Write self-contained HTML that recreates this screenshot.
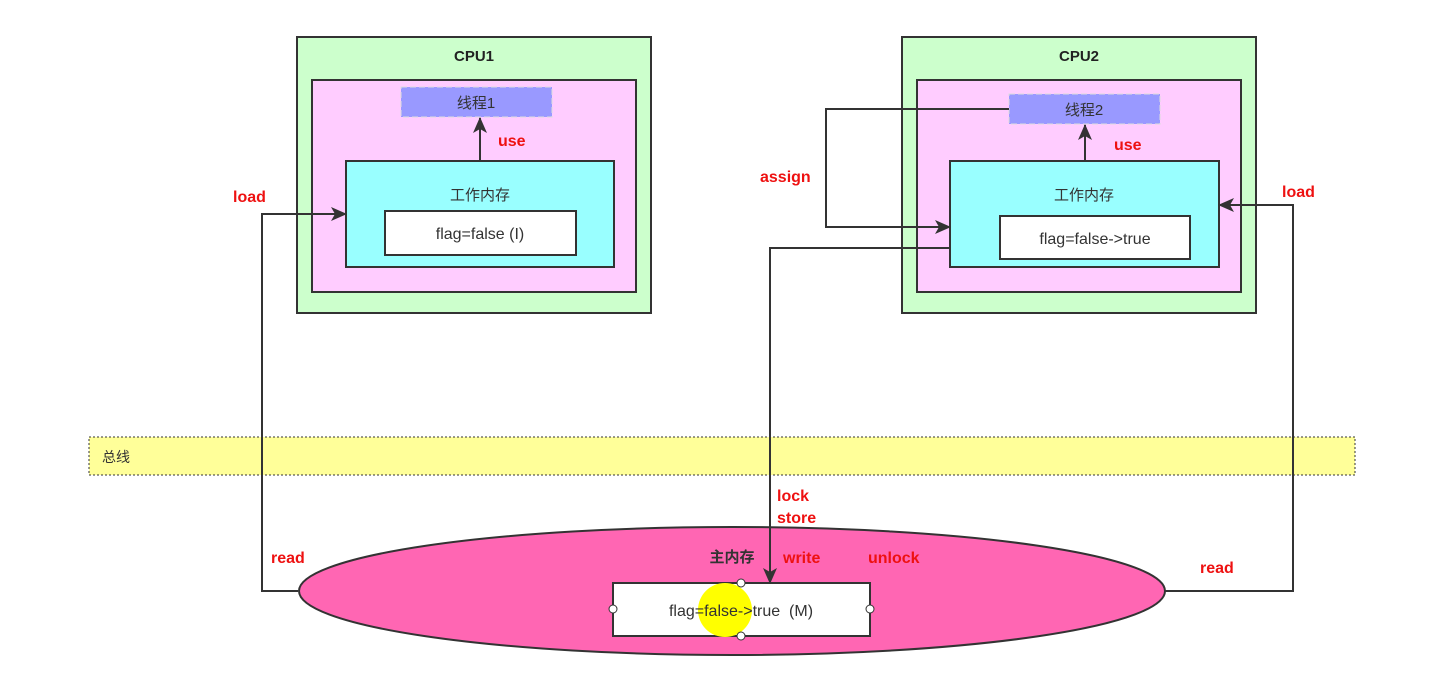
<!DOCTYPE html>
<html><head><meta charset="utf-8"><style>body{margin:0;background:#fff}svg{display:block}</style></head><body>
<svg width="1438" height="679" xmlns="http://www.w3.org/2000/svg" font-family="Liberation Sans, Noto Sans CJK SC, sans-serif">
<defs>
<marker id="b" markerWidth="16" markerHeight="14" refX="15" refY="7" orient="auto" markerUnits="userSpaceOnUse"><path d="M0,0 L16,7 L0,14 L4,7 Z" fill="#333"/></marker></defs>
<!-- CPU1 -->
<rect x="297" y="37" width="354" height="276" fill="#ccffcc" stroke="#333" stroke-width="2"/>
<text x="474" y="61" text-anchor="middle" font-weight="bold" font-size="15" fill="#222">CPU1</text>
<rect x="312" y="80" width="324" height="212" fill="#ffccff" stroke="#333" stroke-width="2"/>
<rect x="401" y="87" width="151" height="30" fill="#9999ff" stroke="#ddd" stroke-dasharray="6,3"/>
<text x="476" y="108" text-anchor="middle" font-size="15" fill="#333">线程1</text>
<rect x="346" y="161" width="268" height="106" fill="#99ffff" stroke="#333" stroke-width="2"/>
<text x="480" y="200" text-anchor="middle" font-size="15" fill="#333">工作内存</text>
<rect x="385" y="211" width="191" height="44" fill="#fff" stroke="#333" stroke-width="2"/>
<text x="480" y="239" text-anchor="middle" font-size="16" fill="#333">flag=false (I)</text>
<!-- CPU2 -->
<rect x="902" y="37" width="354" height="276" fill="#ccffcc" stroke="#333" stroke-width="2"/>
<text x="1079" y="61" text-anchor="middle" font-weight="bold" font-size="15" fill="#222">CPU2</text>
<rect x="917" y="80" width="324" height="212" fill="#ffccff" stroke="#333" stroke-width="2"/>
<rect x="1009" y="94" width="151" height="30" fill="#9999ff" stroke="#ddd" stroke-dasharray="6,3"/>
<text x="1084" y="115" text-anchor="middle" font-size="15" fill="#333">线程2</text>
<rect x="950" y="161" width="269" height="106" fill="#99ffff" stroke="#333" stroke-width="2"/>
<text x="1084" y="200" text-anchor="middle" font-size="15" fill="#333">工作内存</text>
<rect x="1000" y="216" width="190" height="43" fill="#fff" stroke="#333" stroke-width="2"/>
<text x="1095" y="244" text-anchor="middle" font-size="16" fill="#333">flag=false-&gt;true</text>
<!-- bus -->
<rect x="89" y="437" width="1266" height="38" fill="#ffff99" stroke="#333" stroke-dasharray="2,2"/>
<text x="102" y="462" font-size="14" fill="#333">总线</text>
<!-- main memory -->
<ellipse cx="732" cy="591" rx="433" ry="64" fill="#ff66b3" stroke="#333" stroke-width="2"/>
<rect x="613" y="583" width="257" height="53" fill="#fff" stroke="#333" stroke-width="2"/>
<circle cx="725" cy="610" r="27" fill="#ffff00"/>
<text x="741" y="616" text-anchor="middle" font-size="16" fill="#333" xml:space="preserve">flag=false-&gt;true  (M)</text>
<circle cx="613" cy="609" r="4" fill="#fff" stroke="#333"/><circle cx="870" cy="609" r="4" fill="#fff" stroke="#333"/>
<circle cx="741" cy="583" r="4" fill="#fff" stroke="#333"/><circle cx="741" cy="636" r="4" fill="#fff" stroke="#333"/>
<text x="732" y="562" text-anchor="middle" font-size="15" font-weight="bold" fill="#333">主内存</text>
<!-- connectors -->
<g fill="none" stroke="#333" stroke-width="2">
<polyline points="298,591 262,591 262,214 346,214" marker-end="url(#b)"/>
<line x1="480" y1="161" x2="480" y2="118" marker-end="url(#b)"/>
<line x1="1085" y1="161" x2="1085" y2="125" marker-end="url(#b)"/>
<polyline points="1009,109 826,109 826,227 950,227" marker-end="url(#b)"/>
<polyline points="950,248 770,248 770,583" marker-end="url(#b)"/>
<polyline points="1165,591 1293,591 1293,205 1219,205" marker-end="url(#b)"/>
</g>
<g fill="#ee1111" font-weight="bold" font-size="16">
<text x="233" y="202">load</text><text x="498" y="146">use</text>
<text x="760" y="182">assign</text><text x="1114" y="150">use</text>
<text x="1282" y="197">load</text><text x="777" y="501">lock</text>
<text x="777" y="523">store</text><text x="271" y="563">read</text>
<text x="783" y="563">write</text><text x="868" y="563">unlock</text>
<text x="1200" y="573">read</text>
</g>
</svg>
</body></html>
